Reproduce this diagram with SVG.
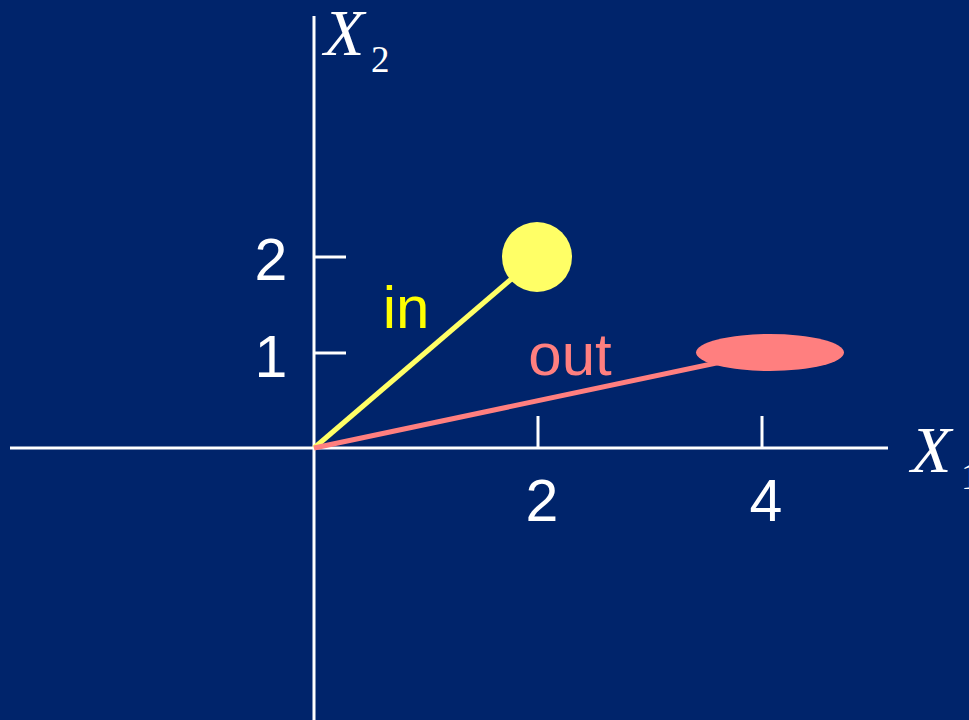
<svg xmlns="http://www.w3.org/2000/svg" width="969" height="720" viewBox="0 0 969 720">
<style>
.ax{stroke:#FFFFFF;stroke-width:3;fill:none}
.num{font-family:"Liberation Sans",Arial,sans-serif;font-size:59px;fill:#FFFFFF;text-anchor:middle}
.var{font-family:"Liberation Serif","Times New Roman",serif;font-style:italic;font-size:66px;fill:#FFFFFF}
.sub{font-family:"Liberation Serif","Times New Roman",serif;font-size:37px;fill:#FFFFFF}
</style>
<rect width="969" height="720" fill="#00246B"/>
<g id="axes">
<line class="ax" x1="314" y1="16" x2="314" y2="720"/>
<line class="ax" x1="10" y1="448" x2="888" y2="448"/>
<line class="ax" x1="314" y1="257" x2="346" y2="257"/>
<line class="ax" x1="314" y1="353" x2="346" y2="353"/>
<line class="ax" x1="538" y1="416" x2="538" y2="448"/>
<line class="ax" x1="762" y1="416" x2="762" y2="448"/>
<text class="num" x="271" y="280">2</text>
<text class="num" x="271" y="377">1</text>
<text class="num" x="542" y="521">2</text>
<text class="num" x="766" y="521">4</text>
<text class="var" x="324" y="55">X</text>
<text class="sub" x="371" y="72">2</text>
<text class="var" x="911" y="472">X</text>
<text class="sub" x="961" y="489">1</text>
</g>
<g id="connectors">
<line x1="314" y1="448" x2="537" y2="257" stroke="#FFFF66" stroke-width="5"/>
<line x1="314" y1="448" x2="740" y2="358" stroke="#FF7F7F" stroke-width="5"/>
</g>
<g id="in">
<circle cx="537" cy="257" r="35" fill="#FFFF66"/>
<text x="406" y="328" font-family="Liberation Sans,Arial,sans-serif" font-size="60" fill="#FFFF00" text-anchor="middle">in</text>
</g>
<g id="out">
<ellipse cx="770" cy="352.5" rx="74" ry="18.5" fill="#FF7F7F"/>
<text x="570" y="375" font-family="Liberation Sans,Arial,sans-serif" font-size="60" fill="#FF7F7F" text-anchor="middle">out</text>
</g>
</svg>
